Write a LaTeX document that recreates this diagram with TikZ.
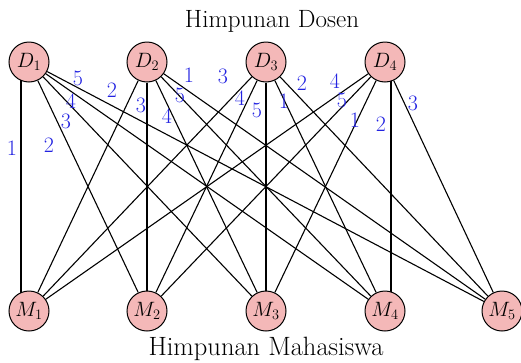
\documentclass[tikz,border=0pt]{standalone}
\usetikzlibrary{backgrounds}
\definecolor{nodepink}{RGB}{244,184,184}
\definecolor{lblblue}{RGB}{35,35,225}
\begin{document}
\begin{tikzpicture}[x=1pt,y=-1pt,
  vtx/.style={circle,draw=black,line width=1pt,fill=nodepink,minimum size=40pt,inner sep=0pt,font=\fontsize{22}{24}\selectfont},
  edge/.style={draw=black,line width=1.1pt},
  lbl/.style={text=lblblue,inner sep=0pt,font=\fontsize{22}{24}\selectfont},
  ttl/.style={inner sep=0pt,font=\fontsize{25}{27}\selectfont}]
\useasboundingbox (0,0) rectangle (521,362);
% vertices
\node[vtx] (D1) at (29,62) {$D_1$};
\node[vtx] (D2) at (147,62) {$D_2$};
\node[vtx] (D3) at (266,62) {$D_3$};
\node[vtx] (D4) at (385,62) {$D_4$};
\node[vtx] (M1) at (29,311) {$M_1$};
\node[vtx] (M2) at (147,311) {$M_2$};
\node[vtx] (M3) at (266,311) {$M_3$};
\node[vtx] (M4) at (385,311) {$M_4$};
\node[vtx] (M5) at (502,311) {$M_5$};
% edges
\begin{scope}[on background layer]
\foreach \d/\m in {1/2,1/3,1/4,1/5,
                   2/1,2/2,2/3,2/4,2/5,
                   3/1,3/2,3/3,3/4,3/5,
                   4/1,4/2,4/3,4/5}{
  \path[edge] (D\d) -- (M\m);
}
\path[edge] ([xshift=-8pt]D1.center) -- ([xshift=-8pt]M1.center);
\path[edge] ([xshift=6pt]D4.center) -- ([xshift=6pt]M4.center);
\end{scope}
% labels D1
\node[lbl] (a1) at (12,148) {1};
\node[lbl] (a2) at (49,145) {2};
\node[lbl] (a3) at (66,121) {3};
\node[lbl] (a4) at (71,101) {4};
\node[lbl] (a5) at (78,78) {5};
% labels D2
\node[lbl] (b1) at (112,90) {2};
\node[lbl] (b2) at (141,105) {3};
\node[lbl] (b3) at (167,116) {4};
\node[lbl] (b4) at (180,95) {5};
\node[lbl] (b5) at (189,75) {1};
% labels D3
\node[lbl] (c1) at (223,76) {3};
\node[lbl] (c2) at (240,98) {4};
\node[lbl] (c3) at (257,110) {5};
\node[lbl] (c4) at (284,101) {1};
\node[lbl] (c5) at (302,83) {2};
% labels D4
\node[lbl] (e1) at (335,81) {4};
\node[lbl] (e2) at (342,100) {5};
\node[lbl] (e3) at (355,120) {1};
\node[lbl] (e4) at (381,124) {2};
\node[lbl] (e5) at (413,103) {3};
% titles
\node[ttl] (tD) at (272,21) {Himpunan Dosen};
\node[ttl,font=\fontsize{26.5}{28}\selectfont] (tM) at (266,349) {Himpunan Mahasiswa};
\end{tikzpicture}
\end{document}
